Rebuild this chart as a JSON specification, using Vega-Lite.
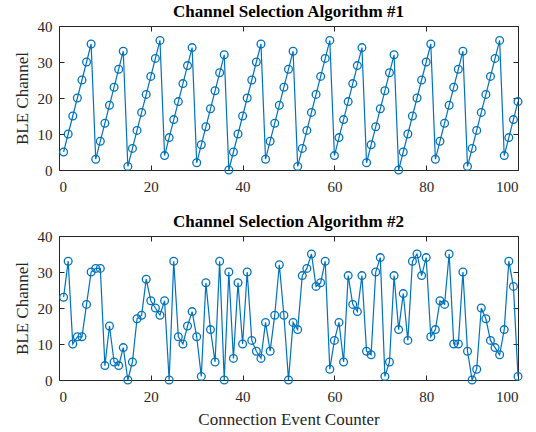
{
  "$schema": "https://vega.github.io/schema/vega-lite/v6.json",
  "padding": {"left": 12, "top": 2, "right": 10, "bottom": 2},
  "spacing": 66,
  "bounds": "flush",
  "config": {
    "font": "Liberation Serif",
    "view": {"stroke": "#262626", "strokeWidth": 1},
    "axis": {
      "grid": false,
      "domain": false,
      "tickColor": "#262626",
      "tickSize": -5,
      "tickWidth": 1,
      "labelFont": "Liberation Serif",
      "labelFontSize": 15,
      "labelColor": "#262626",
      "titleFont": "Liberation Serif",
      "titleFontSize": 17,
      "titleFontWeight": "normal",
      "titleColor": "#262626"
    },
    "title": {"font": "Liberation Serif", "fontSize": 17, "fontWeight": "bold", "color": "#000000", "offset": -2}
  },
  "datasets": {
    "csa1": [
      {"n":1,"ch":5},{"n":2,"ch":10},{"n":3,"ch":15},{"n":4,"ch":20},{"n":5,"ch":25},{"n":6,"ch":30},{"n":7,"ch":35},{"n":8,"ch":3},{"n":9,"ch":8},{"n":10,"ch":13},
      {"n":11,"ch":18},{"n":12,"ch":23},{"n":13,"ch":28},{"n":14,"ch":33},{"n":15,"ch":1},{"n":16,"ch":6},{"n":17,"ch":11},{"n":18,"ch":16},{"n":19,"ch":21},{"n":20,"ch":26},
      {"n":21,"ch":31},{"n":22,"ch":36},{"n":23,"ch":4},{"n":24,"ch":9},{"n":25,"ch":14},{"n":26,"ch":19},{"n":27,"ch":24},{"n":28,"ch":29},{"n":29,"ch":34},{"n":30,"ch":2},
      {"n":31,"ch":7},{"n":32,"ch":12},{"n":33,"ch":17},{"n":34,"ch":22},{"n":35,"ch":27},{"n":36,"ch":32},{"n":37,"ch":0},{"n":38,"ch":5},{"n":39,"ch":10},{"n":40,"ch":15},
      {"n":41,"ch":20},{"n":42,"ch":25},{"n":43,"ch":30},{"n":44,"ch":35},{"n":45,"ch":3},{"n":46,"ch":8},{"n":47,"ch":13},{"n":48,"ch":18},{"n":49,"ch":23},{"n":50,"ch":28},
      {"n":51,"ch":33},{"n":52,"ch":1},{"n":53,"ch":6},{"n":54,"ch":11},{"n":55,"ch":16},{"n":56,"ch":21},{"n":57,"ch":26},{"n":58,"ch":31},{"n":59,"ch":36},{"n":60,"ch":4},
      {"n":61,"ch":9},{"n":62,"ch":14},{"n":63,"ch":19},{"n":64,"ch":24},{"n":65,"ch":29},{"n":66,"ch":34},{"n":67,"ch":2},{"n":68,"ch":7},{"n":69,"ch":12},{"n":70,"ch":17},
      {"n":71,"ch":22},{"n":72,"ch":27},{"n":73,"ch":32},{"n":74,"ch":0},{"n":75,"ch":5},{"n":76,"ch":10},{"n":77,"ch":15},{"n":78,"ch":20},{"n":79,"ch":25},{"n":80,"ch":30},
      {"n":81,"ch":35},{"n":82,"ch":3},{"n":83,"ch":8},{"n":84,"ch":13},{"n":85,"ch":18},{"n":86,"ch":23},{"n":87,"ch":28},{"n":88,"ch":33},{"n":89,"ch":1},{"n":90,"ch":6},
      {"n":91,"ch":11},{"n":92,"ch":16},{"n":93,"ch":21},{"n":94,"ch":26},{"n":95,"ch":31},{"n":96,"ch":36},{"n":97,"ch":4},{"n":98,"ch":9},{"n":99,"ch":14},{"n":100,"ch":19}
    ],
    "csa2": [
      {"n":1,"ch":23},{"n":2,"ch":33},{"n":3,"ch":10},{"n":4,"ch":12},{"n":5,"ch":12},{"n":6,"ch":21},{"n":7,"ch":30},{"n":8,"ch":31},{"n":9,"ch":31},{"n":10,"ch":4},
      {"n":11,"ch":15},{"n":12,"ch":5},{"n":13,"ch":4},{"n":14,"ch":9},{"n":15,"ch":0},{"n":16,"ch":5},{"n":17,"ch":17},{"n":18,"ch":18},{"n":19,"ch":28},{"n":20,"ch":22},
      {"n":21,"ch":20},{"n":22,"ch":18},{"n":23,"ch":22},{"n":24,"ch":0},{"n":25,"ch":33},{"n":26,"ch":12},{"n":27,"ch":10},{"n":28,"ch":15},{"n":29,"ch":19},{"n":30,"ch":12},
      {"n":31,"ch":1},{"n":32,"ch":27},{"n":33,"ch":14},{"n":34,"ch":5},{"n":35,"ch":33},{"n":36,"ch":0},{"n":37,"ch":30},{"n":38,"ch":6},{"n":39,"ch":27},{"n":40,"ch":10},
      {"n":41,"ch":30},{"n":42,"ch":11},{"n":43,"ch":8},{"n":44,"ch":6},{"n":45,"ch":16},{"n":46,"ch":8},{"n":47,"ch":18},{"n":48,"ch":32},{"n":49,"ch":18},{"n":50,"ch":0},
      {"n":51,"ch":16},{"n":52,"ch":14},{"n":53,"ch":29},{"n":54,"ch":31},{"n":55,"ch":35},{"n":56,"ch":26},{"n":57,"ch":27},{"n":58,"ch":33},{"n":59,"ch":3},{"n":60,"ch":11},
      {"n":61,"ch":16},{"n":62,"ch":5},{"n":63,"ch":29},{"n":64,"ch":21},{"n":65,"ch":19},{"n":66,"ch":29},{"n":67,"ch":8},{"n":68,"ch":7},{"n":69,"ch":30},{"n":70,"ch":34},
      {"n":71,"ch":1},{"n":72,"ch":5},{"n":73,"ch":29},{"n":74,"ch":14},{"n":75,"ch":24},{"n":76,"ch":11},{"n":77,"ch":33},{"n":78,"ch":35},{"n":79,"ch":29},{"n":80,"ch":34},
      {"n":81,"ch":12},{"n":82,"ch":14},{"n":83,"ch":22},{"n":84,"ch":21},{"n":85,"ch":35},{"n":86,"ch":10},{"n":87,"ch":10},{"n":88,"ch":30},{"n":89,"ch":8},{"n":90,"ch":0},
      {"n":91,"ch":3},{"n":92,"ch":20},{"n":93,"ch":17},{"n":94,"ch":11},{"n":95,"ch":9},{"n":96,"ch":7},{"n":97,"ch":14},{"n":98,"ch":33},{"n":99,"ch":26},{"n":100,"ch":1}
    ]
  },
  "vconcat": [
    {
      "title": "Channel Selection Algorithm #1",
      "width": 459,
      "height": 144,
      "data": {"name": "csa1"},
      "layer": [
        {
          "mark": {"type": "line", "color": "#0072BD", "strokeWidth": 1.2},
          "encoding": {
            "x": {"field": "n", "type": "quantitative", "scale": {"domain": [0, 100], "nice": false, "zero": false},
                  "axis": {"orient": "bottom", "values": [0, 20, 40, 60, 80, 100], "title": null, "labelPadding": 14}},
            "y": {"field": "ch", "type": "quantitative", "scale": {"domain": [0, 40], "nice": false},
                  "axis": {"orient": "left", "values": [0, 10, 20, 30, 40], "title": "BLE Channel", "labelPadding": 12, "titlePadding": 6}}
          }
        },
        {
          "mark": {"type": "point", "shape": "circle", "filled": false, "color": "#0072BD", "size": 60, "strokeWidth": 1.3, "opacity": 1},
          "encoding": {
            "x": {"field": "n", "type": "quantitative", "axis": {"orient": "top", "values": [0, 20, 40, 60, 80, 100], "labels": false, "title": null}},
            "y": {"field": "ch", "type": "quantitative", "axis": {"orient": "right", "values": [0, 10, 20, 30, 40], "labels": false, "title": null}}
          }
        }
      ],
      "resolve": {"axis": {"x": "independent", "y": "independent"}}
    },
    {
      "title": "Channel Selection Algorithm #2",
      "width": 459,
      "height": 144,
      "data": {"name": "csa2"},
      "layer": [
        {
          "mark": {"type": "line", "color": "#0072BD", "strokeWidth": 1.2},
          "encoding": {
            "x": {"field": "n", "type": "quantitative", "scale": {"domain": [0, 100], "nice": false, "zero": false},
                  "axis": {"orient": "bottom", "values": [0, 20, 40, 60, 80, 100], "title": "Connection Event Counter", "labelPadding": 14, "titlePadding": 7}},
            "y": {"field": "ch", "type": "quantitative", "scale": {"domain": [0, 40], "nice": false},
                  "axis": {"orient": "left", "values": [0, 10, 20, 30, 40], "title": "BLE Channel", "labelPadding": 12, "titlePadding": 6}}
          }
        },
        {
          "mark": {"type": "point", "shape": "circle", "filled": false, "color": "#0072BD", "size": 60, "strokeWidth": 1.3, "opacity": 1},
          "encoding": {
            "x": {"field": "n", "type": "quantitative", "axis": {"orient": "top", "values": [0, 20, 40, 60, 80, 100], "labels": false, "title": null}},
            "y": {"field": "ch", "type": "quantitative", "axis": {"orient": "right", "values": [0, 10, 20, 30, 40], "labels": false, "title": null}}
          }
        }
      ],
      "resolve": {"axis": {"x": "independent", "y": "independent"}}
    }
  ]
}
